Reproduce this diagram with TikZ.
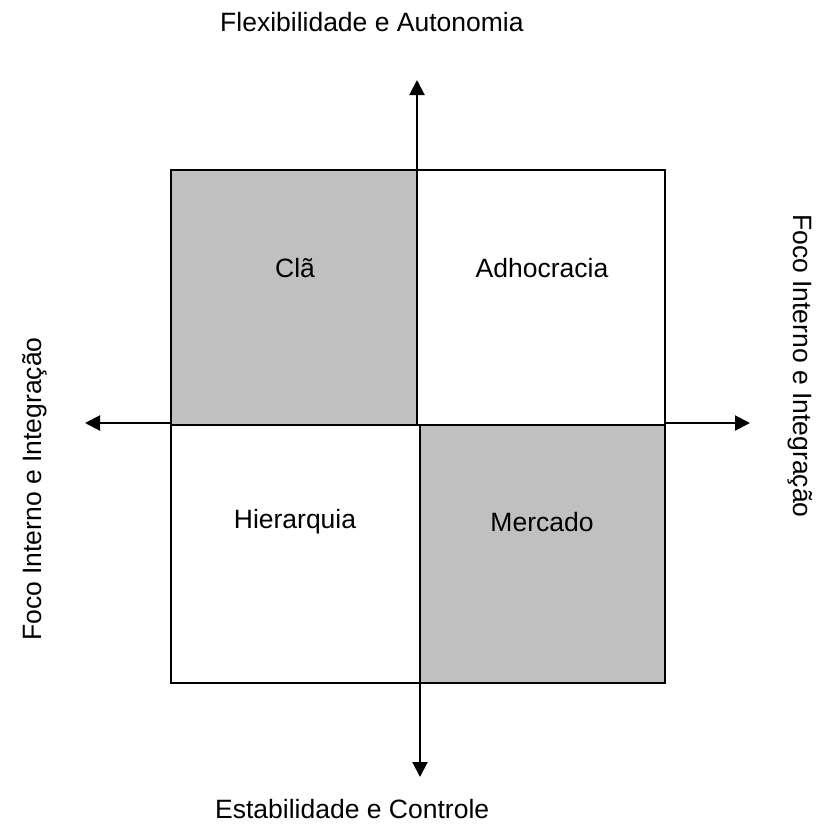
\documentclass[tikz,border=0pt]{standalone}
\usepackage{fontspec}
\setmainfont{Liberation Sans}
\usetikzlibrary{arrows.meta}
\definecolor{silver}{HTML}{C0C0C0}
\begin{document}
\begin{tikzpicture}[x=1pt,y=-1pt,
  box/.style={draw=black, line width=2pt},
  axis/.style={draw=black, line width=2pt, -{Triangle[width=15pt,length=15pt]}},
  lbl/.style={font=\fontsize{26.5}{31}\selectfont, inner sep=0pt}]
\useasboundingbox (0,0) rectangle (820,827);
\fill[white] (0,0) rectangle (820,827);
% quadrants
\path[box, fill=silver] (171,170) rectangle (417,425);
\path[box, fill=white] (417,170) rectangle (665,425);
\path[box, fill=white] (171,425) rectangle (420,683);
\path[box, fill=silver] (420,425) rectangle (665,683);
% axis coordinates
\coordinate (ctop) at (417,425);
\coordinate (ttip) at (417,80);
\coordinate (cbot) at (420,425);
\coordinate (btip) at (420,777);
\coordinate (lstart) at (171,423);
\coordinate (ltip) at (85,423);
\coordinate (rstart) at (665,423);
\coordinate (rtip) at (750,423);
\draw[axis] (ctop) -- (ttip);
\draw[axis] (cbot) -- (btip);
\draw[axis] (lstart) -- (ltip);
\draw[axis] (rstart) -- (rtip);
% quadrant labels
\node[lbl] (cla) at (295,268) {Clã};
\node[lbl] (adh) at (542,268) {Adhocracia};
\node[lbl] (hie) at (295,522) {Hierarquia};
\node[lbl] (mer) at (542,522) {Mercado};
% axis labels
\node[lbl, anchor=west] (flex) at (220,22) {Flexibilidade e Autonomia};
\node[lbl, anchor=west] (esta) at (215,809) {Estabilidade e Controle};
\node[lbl, rotate=90] (left) at (35,489) {Foco Interno e Integração};
\node[lbl, rotate=-90] (right) at (800,366) {Foco Interno e Integração};
\end{tikzpicture}
\end{document}
